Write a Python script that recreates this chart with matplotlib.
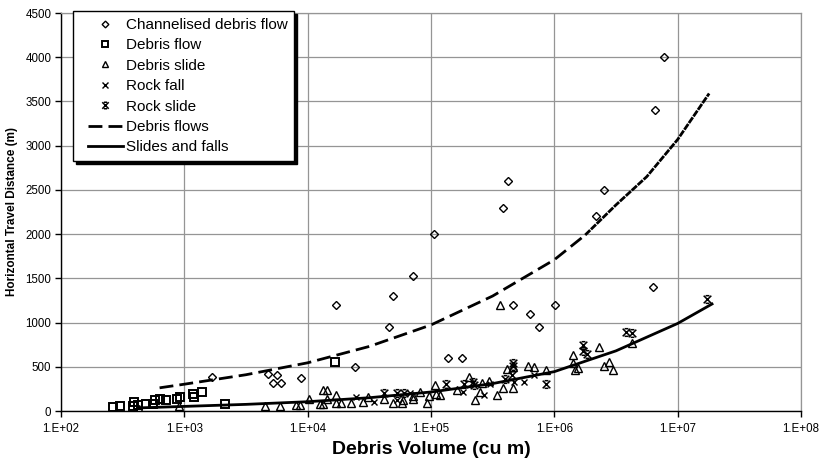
import matplotlib
matplotlib.use("Agg")
import matplotlib.pyplot as plt
from matplotlib.path import Path
from matplotlib.lines import Line2D
from matplotlib.legend_handler import HandlerLine2D

plt.rcParams['font.family'] = ['Liberation Sans', 'DejaVu Sans']

# ---------------- data ----------------
cdf_x = [1670, 4800, 5675, 5210, 6030, 8830, 16980, 24200, 46000, 48980, 71960,
         106700, 138300, 179700, 382000, 424600, 465600, 636000, 757000, 1.02e6,
         2.17e6, 2.535e6, 6.32e6, 6.49e6, 7.82e6]
cdf_y = [385, 418, 410, 320, 320, 378, 1200, 501, 950, 1300, 1530,
         2000, 600, 600, 2300, 2600, 1200, 1100, 950, 1200,
         2200, 2500, 1400, 3400, 4000]

df_x = [266, 301, 381, 393, 423, 489, 561, 579, 635, 711, 868, 923, 1183, 1199,
        1384, 2138, 16680]
df_y = [42, 56, 56, 105, 68, 79, 79, 124, 136, 124, 136, 162, 192, 162,
        211, 79, 551]

ds_x = [431, 910, 4510, 5970, 7980, 8600, 10330, 13250, 14440, 12620, 13340, 14440,
        16990, 16990, 18660, 22490, 28300, 30900, 41900, 49550, 57970, 59740, 71150,
        71960, 80850, 92500, 95700, 106900, 109900, 118500, 161900, 204800, 227800,
        258300, 247900, 296000, 341700, 384400, 410500, 465800, 465800, 613900,
        690000, 858600, 1.43e6, 1.42e6, 1.475e6, 1.57e6, 2.32e6, 2.55e6, 2.75e6,
        2.98e6, 4.25e6, 363000]
ds_y = [19, 51, 53, 60, 68, 68, 133, 243, 234, 79, 74, 132,
        181, 90, 90, 87, 98, 155, 136, 87, 87, 124, 136,
        170, 218, 85, 170, 294, 189, 181, 238, 379, 124,
        320, 218, 339, 181, 257, 472, 257, 501, 509,
        501, 469, 633, 539, 469, 486, 727, 512, 558,
        469, 772, 1200]

rf_x = [24700, 34200, 52800, 67600, 180300, 271000, 303500, 472000, 569000, 682000]
rf_y = [153, 102, 130, 200, 218, 181, 303, 331, 331, 402]

rs_x = [41300, 52800, 60500, 132400, 185300, 219000, 223500, 399000, 450500,
        465800, 465800, 863000, 1.72e6, 1.71e6, 1.845e6, 3.82e6, 4.25e6, 1.73e7]
rs_y = [200, 200, 209, 303, 303, 331, 294, 362, 402,
        546, 512, 300, 741, 684, 645, 897, 879, 1261]

flow_fit_x = [630, 1e3, 3.16e3, 1e4, 3.16e4, 1e5, 3.16e5, 1e6, 1.78e6, 3.16e6,
              5.62e6, 1e7, 1.8e7]
flow_fit_y = [262, 303, 410, 545, 730, 973, 1300, 1710, 1990, 2330,
              2650, 3070, 3590]

slide_fit_x = [424, 1e3, 3.16e3, 1e4, 3.16e4, 1e5, 3.16e5, 1e6, 3.16e6, 1e7, 1.9e7]
slide_fit_y = [35, 52, 75, 105, 150, 215, 310, 445, 680, 990, 1210]

x_ticks = [1e2, 1e3, 1e4, 1e5, 1e6, 1e7, 1e8]
x_tick_labels = ["1.E+02", "1.E+03", "1.E+04", "1.E+05", "1.E+06", "1.E+07", "1.E+08"]
y_ticks = [0, 500, 1000, 1500, 2000, 2500, 3000, 3500, 4000, 4500]

labels = ["Channelised debris flow", "Debris flow", "Debris slide", "Rock fall",
          "Rock slide", "Debris flows", "Slides and falls"]
x_label = "Debris Volume (cu m)"
y_label = "Horizontal Travel Distance (m)"

# ---------------- figure ----------------
W, H = 820, 466
fig = plt.figure(figsize=(W / 100, H / 100), dpi=100)
L, R, T, B = 61, 801, 13, 411
ax = fig.add_axes([L / W, 1 - B / H, (R - L) / W, (B - T) / H])

star = Path([(-1, -1), (1, 1), (-1, 1), (1, -1), (-0.5, 1), (0.5, 1), (-0.5, -1), (0.5, -1)],
            [Path.MOVETO, Path.LINETO] * 4)

mk = dict(linestyle='none', markerfacecolor='none', markeredgecolor='black', zorder=4)
ax.plot(cdf_x, cdf_y, marker='D', markersize=4, markeredgewidth=1.0, label=labels[0], **mk)
ax.plot(df_x, df_y, marker='s', markersize=5.5, markeredgewidth=1.4, label=labels[1], **mk)
ax.plot(ds_x, ds_y, marker='^', markersize=5.5, markeredgewidth=1.0, label=labels[2], **mk)
ax.plot(rf_x, rf_y, marker='x', markersize=5, markeredgewidth=1.0, label=labels[3], **mk)
ax.plot(rs_x, rs_y, marker=star, markersize=5.5, markeredgewidth=1.1, label=labels[4], **mk)

split = 8
ax.plot(flow_fit_x[:split + 1], flow_fit_y[:split + 1], color='black', linewidth=2.0,
        linestyle=(0, (5, 2.2)), label=labels[5], zorder=3, solid_capstyle='butt')
ax.plot(flow_fit_x[split:], flow_fit_y[split:], color='black', linewidth=2.0,
        linestyle=(0, (2.5, 0.4)), zorder=3)
ax.plot(slide_fit_x, slide_fit_y, color='black', linewidth=2.0, label=labels[6], zorder=3)

ax.set_xscale('log')
ax.set_xlim(1e2, 1e8)
ax.set_ylim(0, 4500)
ax.set_xticks(x_ticks)
ax.set_xticklabels(x_tick_labels)
ax.xaxis.set_minor_locator(matplotlib.ticker.NullLocator())
ax.set_yticks(y_ticks)
ax.tick_params(axis='both', direction='out', length=4, width=1, color='black',
               labelsize=8.3, pad=3)
ax.tick_params(axis='x', pad=5)

ax.grid(True, which='major', color='#959595', linewidth=0.9)
ax.set_axisbelow(True)
for s in ['top', 'right']:
    ax.spines[s].set_color('#959595')
    ax.spines[s].set_linewidth(0.9)
for s in ['left', 'bottom']:
    ax.spines[s].set_color('black')
    ax.spines[s].set_linewidth(1.0)

ax.set_xlabel(x_label, fontsize=14, fontweight='bold')
ax.xaxis.set_label_coords(0.5, -0.075)
ax.set_ylabel(y_label, fontsize=8.5, fontweight='bold')
ax.yaxis.set_label_coords((18 - L) / (R - L), 0.5)

leg = ax.legend(loc='upper left', bbox_to_anchor=(73 / W, 1 - 11 / H),
                bbox_transform=fig.transFigure, borderaxespad=0,
                fontsize=11, frameon=True, fancybox=False, framealpha=1,
                edgecolor='black', borderpad=0.45, labelspacing=0.42,
                handlelength=2.8, handletextpad=0.2, numpoints=1, markerscale=0.85,
                handler_map={Line2D: HandlerLine2D(xpad=0.52)},
                shadow={'ox': 2, 'oy': -2, 'color': 'black', 'alpha': 1})
leg.get_frame().set_linewidth(1.0)
leg.set_zorder(10)

fig.savefig("out.png", dpi=100)
